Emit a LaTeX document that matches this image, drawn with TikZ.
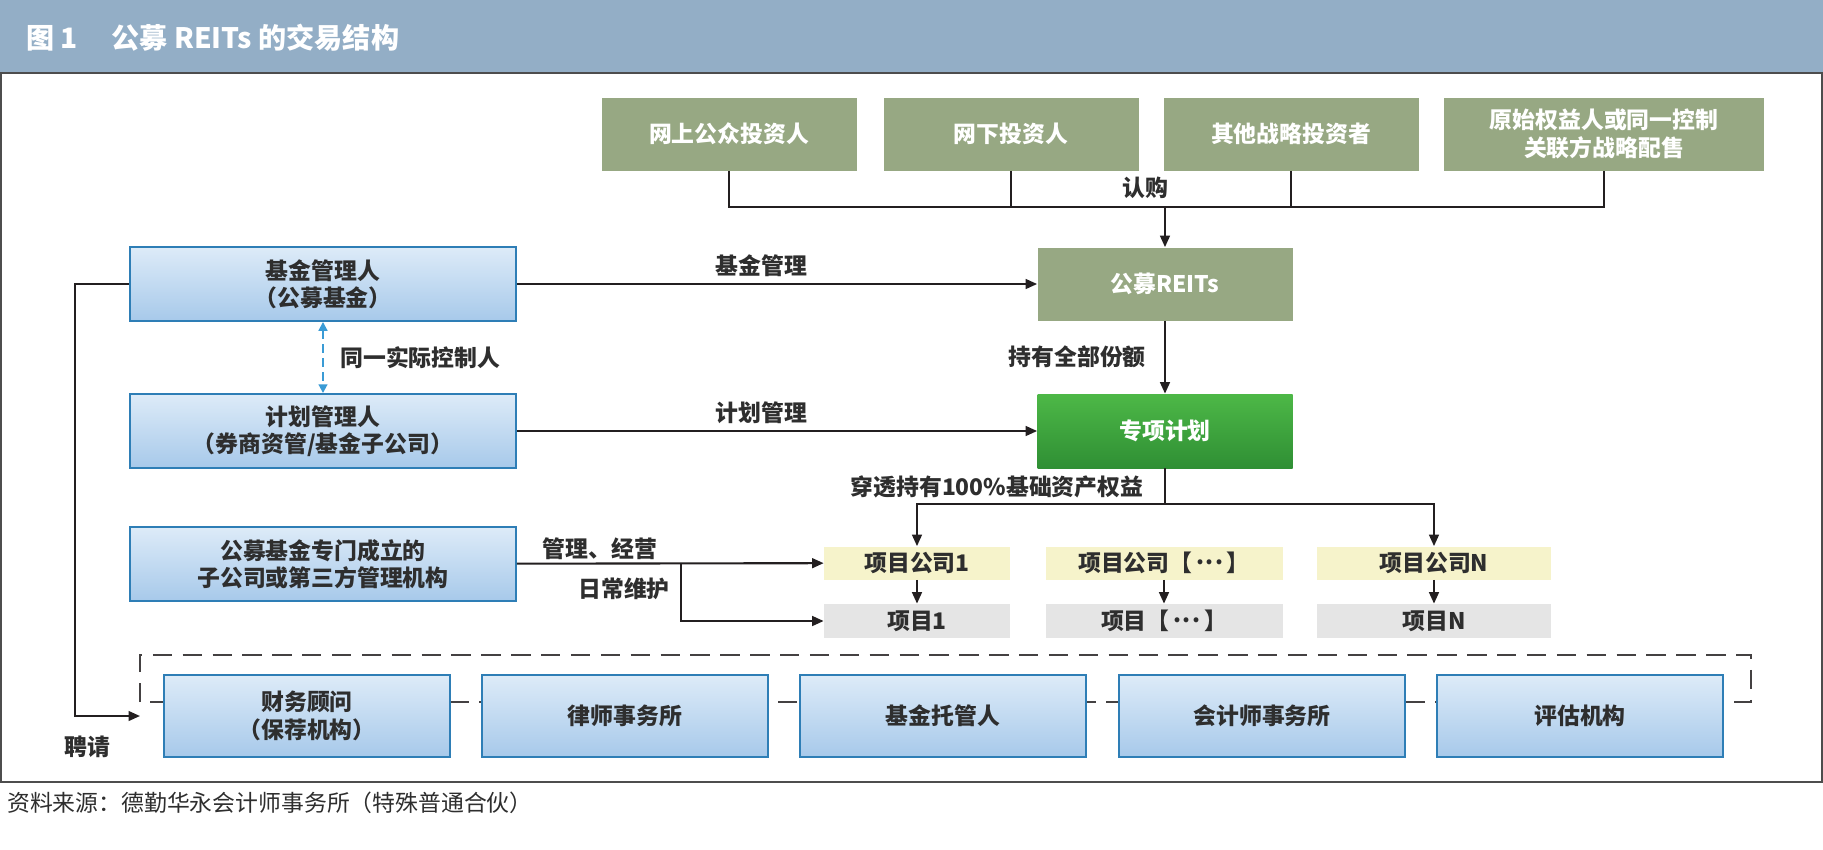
\documentclass[tikz,border=0pt]{standalone}
\usepackage{fontspec}
\setmainfont{Noto Sans CJK SC}
\usetikzlibrary{arrows.meta,positioning,calc}
\definecolor{cTitle}{HTML}{93AEC6}
\definecolor{cOlive}{HTML}{97A883}
\definecolor{cPlanTop}{HTML}{4DB847}
\definecolor{cPlanBot}{HTML}{2F8F34}
\definecolor{cBlueTop}{HTML}{DDEBF8}
\definecolor{cBlueBot}{HTML}{A7C9EA}
\definecolor{cEdge}{HTML}{2E7EB6}
\definecolor{cYellow}{HTML}{F6F3CB}
\definecolor{cGreyBox}{HTML}{E5E5E5}
\definecolor{cCtrl}{HTML}{3A9BD5}
\definecolor{cInk}{HTML}{2E2E2E}
\definecolor{cLine}{HTML}{231F20}
\definecolor{cFrame}{HTML}{4D4D4D}
\newcommand{\mdots}{\,\raisebox{0.3em}{.\kern0.8pt.\kern0.8pt.}\,}

\begin{document}
\begin{tikzpicture}[x=0.2mm,y=-0.2mm,
  font=\fontsize{13}{15.5}\selectfont\bfseries,
  invbox/.style={fill=cOlive,text=white,minimum width=51mm,minimum height=14.6mm,
                 align=center,inner sep=1pt},
  planbox/.style={top color=cPlanTop,bottom color=cPlanBot,text=white,
                  minimum width=51mm,minimum height=14.8mm,inner sep=1pt},
  mgrbox/.style={draw=cEdge,line width=1.1pt,top color=cBlueTop,bottom color=cBlueBot,
                 text=cInk,minimum width=77.2mm,minimum height=14.8mm,align=center,inner sep=1pt},
  agent/.style={mgrbox,minimum width=57.2mm,minimum height=16.4mm},
  cobox/.style={fill=cYellow,text=cInk,minimum height=6.6mm,inner sep=1pt},
  projbox/.style={fill=cGreyBox,text=cInk,minimum height=6.8mm,inner sep=1pt},
  lbl/.style={text=cInk},
  link/.style={line width=1.2pt,cLine},
  flow/.style={link,-{Triangle[length=6.5pt,width=5.5pt]}},
  ctrl/.style={{Triangle[length=5pt,width=5pt]}-{Triangle[length=5pt,width=5pt]},
               line width=1.1pt,cCtrl,dash pattern=on 5pt off 3pt},
  hirebox/.style={line width=1.4pt,cLine!85,dash pattern=on 11pt off 6pt}
]
\useasboundingbox (0,0) rectangle (1823,849);
\fill[white] (0,0) rectangle (1823,849);
\fill[cTitle] (0,0) rectangle (1823,72);
\draw[cFrame,line width=1.2pt] (1,73) rectangle (1822,782);
\node[anchor=west,text=white,font=\fontsize{16}{18}\selectfont\bfseries] (title) at (20,38)
     {图 1\hspace{1.2em}公募 REITs 的交易结构};

% investors
\node[invbox] (inv1) at (729,134) {网上公众投资人};
\node[invbox] (inv2) at (1011,134) {网下投资人};
\node[invbox] (inv3) at (1291,134) {其他战略投资者};
\node[invbox,minimum width=64mm] (inv4) at (1604,134) {原始权益人或同一控制\\关联方战略配售};

\node[invbox] (reits) at (1165,284) {公募REITs};
\node[planbox] (spv) at (1165,431) {专项计划};

% managers
\node[mgrbox] (fundmgr) at (323,284) {基金管理人\\（公募基金）};
\node[mgrbox] (planmgr) at (323,431) {计划管理人\\（券商资管/基金子公司）};
\node[mgrbox] (opmgr) at (323,564) {公募基金专门成立的\\子公司或第三方管理机构};

% project companies
\node[cobox,minimum width=37.2mm] (pc1) at (917,563) {项目公司1};
\node[cobox,minimum width=47.4mm] (pc2) at (1164,563) {项目公司【\mdots】};
\node[cobox,minimum width=46.8mm] (pcN) at (1434,563) {项目公司N};
\node[projbox,minimum width=37.2mm] (pj1) at (917,621) {项目1};
\node[projbox,minimum width=47.4mm] (pj2) at (1164,621) {项目【\mdots】};
\node[projbox,minimum width=46.8mm] (pjN) at (1434,621) {项目N};

% agencies
\draw[hirebox] (140,702) -- (140,655) -- (1751,655) -- (1751,702) -- cycle;
\node[agent] (adv) at (307,716) {财务顾问\\（保荐机构）};
\node[agent] (law) at (625,716) {律师事务所};
\node[agent] (cust) at (943,716) {基金托管人};
\node[agent] (acct) at (1262,716) {会计师事务所};
\node[agent] (val) at (1580,716) {评估机构};

% subscription
\draw[link] (inv1.south) -- ++(0,36) -| (inv4.south);
\draw[link] (inv2.south) -- ++(0,36);
\draw[link] (inv3.south) -- ++(0,36);
\coordinate (bus) at (1165,206);
\draw[flow] (bus) -- (reits);
\node[lbl,anchor=south east,inner sep=2pt] (buy) at (1172,203) {认购};

\draw[flow] (fundmgr) -- node[lbl,above,pos=0.47]{基金管理} (reits);
\draw[flow] (planmgr) -- node[lbl,above,pos=0.47]{计划管理} (spv);
\draw[flow] (reits) -- node[lbl,left=7pt]{持有全部份额} (spv);
\draw[ctrl] (fundmgr) -- node[lbl,right=6pt]{同一实际控制人} (planmgr);

\coordinate (fork) at (1165,504);
\draw[link] (spv) -- (fork);
\draw[flow] (fork) -| (pc1);
\draw[flow] (fork) -| (pcN);
\node[lbl] (through) at (997,487) {穿透持有100\%基础资产权益};

\draw[flow] (pc1) -- (pj1);
\draw[flow] (pc2) -- (pj2);
\draw[flow] (pcN) -- (pjN);

\draw[flow] (opmgr) -- (pc1);
\coordinate (split) at (681,564);
\draw[flow] (split) |- (pj1);
\node[lbl] (mgmt) at (600,549) {管理、经营};
\node[lbl] (upkeep) at (624,589) {日常维护};

\coordinate (hire) at (140,716);
\draw[flow] (fundmgr.west) -- ++(-54,0) |- (hire);
\node[lbl] (engage) at (87,747) {聘请};

\node[anchor=west,font=\fontsize{13}{15}\selectfont,text=cInk] (src) at (1,803)
     {资料来源：德勤华永会计师事务所（特殊普通合伙）};
\end{tikzpicture}
\end{document}
